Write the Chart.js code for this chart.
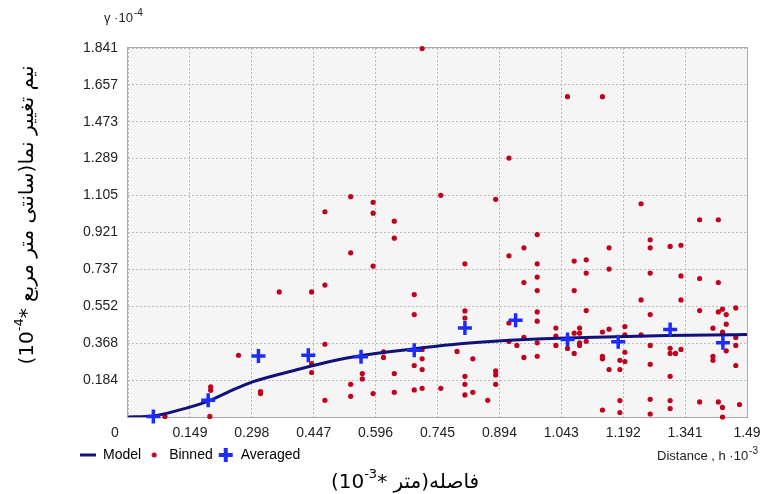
<!DOCTYPE html>
<html>
<head>
<meta charset="utf-8">
<title>Semivariogram</title>
<script src="https://cdn.jsdelivr.net/npm/chart.js@4.4.0/dist/chart.umd.min.js"></script>
<style>
  html, body { margin: 0; padding: 0; background: #fff; }
  #chart { display: block; }
</style>
</head>
<body>
<canvas id="chart" width="766" height="494"></canvas>
<script>
// tick labels (x in 10^-3, y in 10^-4)
const xTickLabels = ["0", "0.149", "0.298", "0.447", "0.596", "0.745", "0.894", "1.043", "1.192", "1.341", "1.49"];
const yTickLabels = ["0", "0.184", "0.368", "0.552", "0.737", "0.921", "1.105", "1.289", "1.473", "1.657", "1.841"];

// binned semivariogram cloud
const binnedX = [0.089, 0.197, 0.199, 0.199, 0.266, 0.319, 0.319, 0.364, 0.442, 0.442, 0.442, 0.474, 0.474, 0.474, 0.474,
  0.536, 0.536, 0.536, 0.536, 0.564, 0.564, 0.590, 0.590, 0.590, 0.590, 0.615, 0.615, 0.641, 0.641, 0.641, 0.641,
  0.689, 0.689, 0.689, 0.689, 0.708, 0.708, 0.708, 0.708, 0.708, 0.753, 0.753, 0.792,
  0.811, 0.811, 0.811, 0.811, 0.811, 0.811, 0.830, 0.830, 0.866, 0.885, 0.885, 0.885, 0.885,
  0.917, 0.917, 0.917, 0.917, 0.936, 0.953, 0.953, 0.953, 0.953,
  0.985, 0.985, 0.985, 0.985, 0.985, 0.985, 0.985, 0.985,
  1.030, 1.030, 1.030, 1.058, 1.058, 1.074, 1.074, 1.074, 1.074, 1.087, 1.087, 1.087, 1.087,
  1.103, 1.103, 1.103, 1.103, 1.142, 1.142, 1.142, 1.142, 1.142, 1.158, 1.158, 1.158, 1.158,
  1.184, 1.184, 1.184, 1.184, 1.196, 1.196, 1.196, 1.196, 1.235, 1.235, 1.235,
  1.257, 1.257, 1.257, 1.257, 1.257, 1.257, 1.257, 1.257,
  1.305, 1.305, 1.305, 1.305, 1.305, 1.305, 1.318, 1.331, 1.331, 1.331, 1.331,
  1.376, 1.376, 1.376, 1.376, 1.408, 1.408, 1.408, 1.421, 1.421, 1.421, 1.421,
  1.431, 1.431, 1.431, 1.431, 1.440, 1.440, 1.440, 1.463, 1.463, 1.463, 1.463, 1.472];
const binnedY = [0.003, 0.003, 0.150, 0.133, 0.308, 0.127, 0.117, 0.624, 0.624, 0.267, 0.222, 1.024, 0.658, 0.363, 0.083,
  1.099, 0.819, 0.163, 0.103, 0.217, 0.190, 1.071, 1.017, 0.753, 0.117, 0.325, 0.297, 0.977, 0.892, 0.217, 0.123,
  0.611, 0.511, 0.257, 0.135, 1.838, 0.337, 0.290, 0.237, 0.143, 1.106, 0.143, 0.327,
  0.764, 0.529, 0.494, 0.203, 0.163, 0.110, 0.290, 0.123, 0.083, 1.086, 0.230, 0.210, 0.163,
  1.292, 0.804, 0.469, 0.377, 0.357, 0.844, 0.671, 0.397, 0.297,
  0.910, 0.764, 0.698, 0.631, 0.524, 0.478, 0.370, 0.303,
  0.444, 0.403, 0.357, 1.598, 0.342, 0.778, 0.631, 0.418, 0.317, 0.444, 0.418, 0.370, 0.357,
  0.784, 0.718, 0.531, 0.378, 1.598, 0.424, 0.303, 0.290, 0.035, 0.844, 0.738, 0.438, 0.237,
  0.283, 0.237, 0.082, 0.022, 0.451, 0.410, 0.323, 0.277, 1.064, 0.584, 0.410,
  0.884, 0.844, 0.718, 0.511, 0.357, 0.263, 0.088, 0.015,
  0.851, 0.343, 0.317, 0.203, 0.082, 0.042, 0.317, 0.857, 0.704, 0.584, 0.337,
  0.984, 0.691, 0.531, 0.075, 0.443, 0.303, 0.283, 0.984, 0.671, 0.524, 0.075,
  0.538, 0.423, 0.048, 0.000, 0.511, 0.463, 0.330, 0.544, 0.397, 0.357, 0.257, 0.062];

// averaged values per lag
const averagedX = [0.061, 0.193, 0.314, 0.434, 0.561, 0.689, 0.811, 0.933, 1.058, 1.180, 1.305, 1.432];
const averagedY = [0.003, 0.083, 0.304, 0.308, 0.300, 0.333, 0.444, 0.483, 0.387, 0.375, 0.437, 0.370];

// fitted model curve
const modelX = [0, 0.06, 0.12, 0.19, 0.25, 0.30, 0.40, 0.50, 0.60, 0.70, 0.80, 0.90, 1.00, 1.10, 1.20, 1.30, 1.40, 1.49];
const modelY = [0, 0.005, 0.033, 0.077, 0.133, 0.175, 0.232, 0.283, 0.318, 0.343, 0.365, 0.380, 0.390, 0.397, 0.402, 0.406, 0.409, 0.411];

// axis titles: persian words + "(10^n*" part
const yTitleWords = "نیم تغییر نما(سانتی متر مربع";
const yTitleExp = "-4";
const xTitleWords = "فاصله(متر";
const xTitleExp = "-3";

const RED = "#c2001c";
const BLUE = "#1e2cf8";
const NAVY = "#10127a";
const FONT = "Liberation Sans";

const toPoints = (xs, ys) => xs.map((x, i) => ({ x: x, y: ys[i] }));

// little canvases used as legend symbols
function makeIcon(draw) {
  const c = document.createElement("canvas");
  c.width = 16;
  c.height = 16;
  draw(c.getContext("2d"));
  return c;
}
const legendIcons = [
  makeIcon(ctx => {
    ctx.strokeStyle = NAVY; ctx.lineWidth = 3;
    ctx.beginPath(); ctx.moveTo(0, 8); ctx.lineTo(16, 8); ctx.stroke();
  }),
  makeIcon(ctx => {
    ctx.fillStyle = RED;
    ctx.beginPath(); ctx.arc(8, 8, 2.5, 0, Math.PI * 2); ctx.fill();
  }),
  makeIcon(ctx => {
    ctx.strokeStyle = BLUE; ctx.lineWidth = 4;
    ctx.beginPath(); ctx.moveTo(1, 8); ctx.lineTo(15, 8); ctx.moveTo(8, 1); ctx.lineTo(8, 15); ctx.stroke();
  })
];

function textWithSup(ctx, text, sup, x, y, alignRight) {
  ctx.font = "13px '" + FONT + "'";
  const w = ctx.measureText(text).width;
  ctx.font = "10px '" + FONT + "'";
  const ws = ctx.measureText(sup).width;
  const left = alignRight ? x - w - ws - 1 : x;
  ctx.textAlign = "left";
  ctx.textBaseline = "alphabetic";
  ctx.font = "13px '" + FONT + "'";
  ctx.fillText(text, left, y);
  ctx.font = "10px '" + FONT + "'";
  ctx.fillText(sup, left + w + 1, y - 6);
}

// "(10^exp* " drawn left to right, then the persian words right to left
function drawTitle(ctx, words, exp, cx, cy) {
  const big = "20px 'DejaVu Sans'";
  const small = "13px 'DejaVu Sans'";
  ctx.direction = "ltr";
  ctx.font = big;
  const wOpen = ctx.measureText("(10").width;
  const wStar = ctx.measureText("* ").width;
  ctx.font = small;
  const wExp = ctx.measureText(exp).width;
  ctx.font = big;
  ctx.direction = "rtl";
  const wWords = ctx.measureText(words).width;
  let x = cx - (wOpen + wExp + wStar + wWords) / 2;
  ctx.textAlign = "left";
  ctx.textBaseline = "middle";
  ctx.direction = "ltr";
  ctx.fillText("(10", x, cy);
  x += wOpen;
  ctx.font = small;
  ctx.fillText(exp, x, cy - 8);
  x += wExp;
  ctx.font = big;
  ctx.fillText("* ", x, cy);
  x += wStar;
  ctx.direction = "rtl";
  ctx.textAlign = "left";
  ctx.fillText(words, x, cy);
}

// plot background, frame and the loose texts around the plot
const decorations = {
  id: "decorations",
  beforeDraw(chart) {
    const { ctx, chartArea: a } = chart;
    ctx.save();
    ctx.fillStyle = "#f5f5f5";
    ctx.fillRect(a.left, a.top, a.right - a.left, a.bottom - a.top);
    ctx.restore();
  },
  beforeDatasetsDraw(chart) {
    const { ctx, chartArea: a } = chart;
    ctx.save();
    ctx.strokeStyle = "#a9a9a9";
    ctx.lineWidth = 1;
    ctx.strokeRect(a.left - 0.5, a.top - 0.5, a.right - a.left + 1, a.bottom - a.top + 1);
    ctx.restore();
  },
  afterDraw(chart) {
    const { ctx, chartArea: a } = chart;
    ctx.save();
    ctx.fillStyle = "#222";
    textWithSup(ctx, "γ ·10", "-4", 104, 22, false);
    textWithSup(ctx, "Distance , h ·10", "-3", 758, 460, true);

    ctx.font = "14px '" + FONT + "'";
    ctx.textAlign = "center";
    ctx.textBaseline = "middle";
    ctx.fillText("0", a.left - 13, 433);

    ctx.fillStyle = "#000";
    drawTitle(ctx, xTitleWords, xTitleExp, 405, 483);

    ctx.translate(28, 215);
    ctx.rotate(-Math.PI / 2);
    drawTitle(ctx, yTitleWords, yTitleExp, 0, 0);
    ctx.restore();
  }
};

const tickFont = { family: FONT, size: 14 };

new Chart(document.getElementById("chart"), {
  type: "scatter",
  data: {
    datasets: [
      {
        label: "Model",
        type: "line",
        data: toPoints(modelX, modelY),
        borderColor: NAVY,
        borderWidth: 3,
        pointRadius: 0,
        cubicInterpolationMode: "monotone",
        fill: false,
        order: 1
      },
      {
        label: "Binned",
        data: toPoints(binnedX, binnedY),
        backgroundColor: RED,
        borderWidth: 0,
        pointRadius: 2.6,
        clip: false,
        order: 2
      },
      {
        label: "Averaged",
        data: toPoints(averagedX, averagedY),
        pointStyle: "cross",
        pointRadius: 7,
        borderColor: BLUE,
        borderWidth: 3.5,
        clip: false,
        order: 0
      }
    ]
  },
  options: {
    responsive: false,
    animation: false,
    layout: { padding: { left: 75, right: 19, top: 48, bottom: 22 } },
    scales: {
      x: {
        type: "linear",
        min: 0,
        max: 1.49,
        afterBuildTicks: s => { s.ticks = xTickLabels.map(v => ({ value: parseFloat(v) })); },
        afterFit: s => { s.height = 26; },
        ticks: {
          callback: (v, i) => (i === 0 ? "" : xTickLabels[i]),
          autoSkip: false,
          maxRotation: 0,
          padding: 5,
          font: { family: FONT, size: 14, lineHeight: 1.6 },
          color: "#222"
        },
        grid: { color: "#bcbcbc", drawTicks: false },
        border: { display: false, dash: [2, 2] }
      },
      y: {
        type: "linear",
        min: 0,
        max: 1.841,
        afterBuildTicks: s => { s.ticks = yTickLabels.map(v => ({ value: parseFloat(v) })); },
        afterFit: s => { s.width = 53; },
        ticks: {
          callback: (v, i) => (i === 0 ? "" : yTickLabels[i]),
          autoSkip: false,
          padding: 10,
          font: tickFont,
          color: "#222"
        },
        grid: { color: "#bcbcbc", drawTicks: false },
        border: { display: false, dash: [2, 2] }
      }
    },
    plugins: {
      tooltip: { enabled: false },
      legend: {
        position: "bottom",
        align: "start",
        labels: {
          usePointStyle: true,
          pointStyleWidth: 16,
          boxHeight: 14,
          padding: 5,
          color: "#222",
          font: { family: FONT, size: 14 },
          generateLabels: chart => chart.data.datasets.map((ds, i) => ({
            text: ds.label,
            pointStyle: legendIcons[i],
            datasetIndex: i,
            hidden: false,
            lineWidth: 0,
            fillStyle: "rgba(0,0,0,0)",
            strokeStyle: "rgba(0,0,0,0)"
          }))
        }
      }
    }
  },
  plugins: [decorations]
});
</script>
</body>
</html>
